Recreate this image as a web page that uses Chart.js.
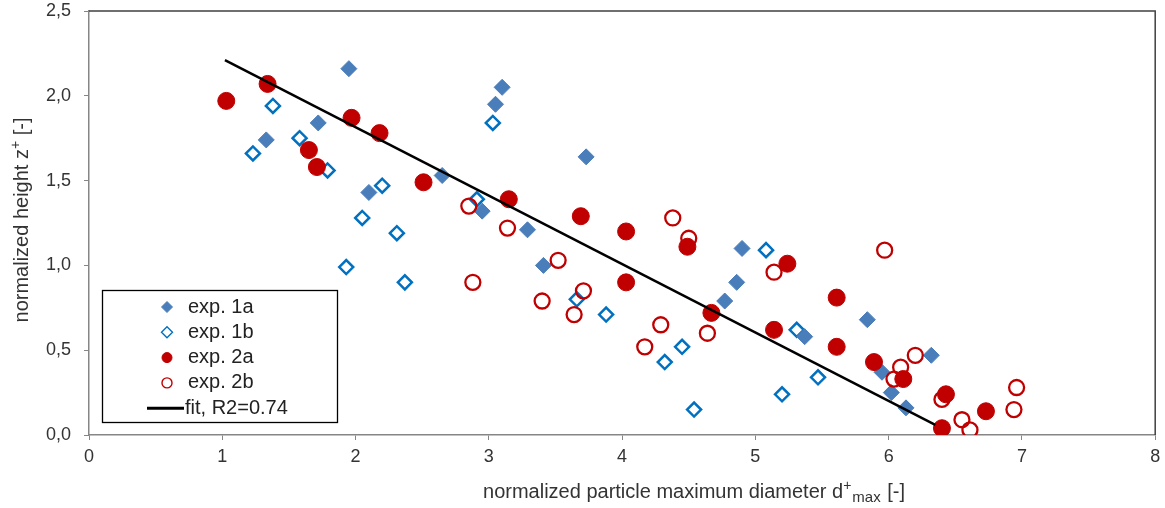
<!DOCTYPE html>
<html>
<head>
<meta charset="utf-8">
<script src="https://cdn.jsdelivr.net/npm/chart.js@4.4.1/dist/chart.umd.min.js"></script>
<style>
  html, body { margin: 0; padding: 0; background: #fff; }
  #wrap { width: 1165px; height: 508px; position: relative; }
</style>
</head>
<body>
<div id="wrap"><canvas id="myChart"></canvas></div>
<script>
// data
const exp1aX = [1.33, 1.72, 1.95, 2.10, 2.65, 2.95, 3.05, 3.10, 3.29, 3.41, 3.73, 4.77, 4.86, 4.90, 5.37, 5.84, 5.95, 6.02, 6.13, 6.32];
const exp1aY = [1.74, 1.84, 2.16, 1.43, 1.53, 1.32, 1.95, 2.05, 1.21, 1.00, 1.64, 0.79, 0.90, 1.10, 0.58, 0.68, 0.37, 0.25, 0.16, 0.47];

const exp1bX = [1.23, 1.38, 1.58, 1.79, 1.93, 2.05, 2.20, 2.31, 2.37, 2.91, 3.03, 3.66, 3.88, 4.32, 4.45, 4.54, 5.08, 5.20, 5.31, 5.47];
const exp1bY = [1.66, 1.94, 1.75, 1.56, 0.99, 1.28, 1.47, 1.19, 0.90, 1.39, 1.84, 0.80, 0.71, 0.43, 0.52, 0.15, 1.09, 0.24, 0.62, 0.34];

const exp2aX = [1.03, 1.34, 1.65, 1.71, 1.97, 2.18, 2.51, 3.15, 3.69, 4.03, 4.03, 4.49, 4.67, 5.14, 5.24, 5.61, 5.61, 5.89, 6.11, 6.43, 6.40, 6.73];
const exp2aY = [1.97, 2.07, 1.68, 1.58, 1.87, 1.78, 1.49, 1.39, 1.29, 1.20, 0.90, 1.11, 0.72, 0.62, 1.01, 0.81, 0.52, 0.43, 0.33, 0.24, 0.04, 0.14];

const exp2bX = [2.85, 2.88, 3.14, 3.40, 3.52, 3.64, 3.71, 4.17, 4.29, 4.38, 4.50, 4.64, 5.14, 5.97, 6.04, 6.09, 6.20, 6.40, 6.55, 6.61, 6.94, 6.96];
const exp2bY = [1.35, 0.90, 1.22, 0.79, 1.03, 0.71, 0.85, 0.52, 0.65, 1.28, 1.16, 0.60, 0.96, 1.09, 0.33, 0.40, 0.47, 0.21, 0.09, 0.03, 0.15, 0.28];

const fitX = [1.02, 6.35];
const fitY = [2.21, 0.06];

const xTicks = [0, 1, 2, 3, 4, 5, 6, 7, 8];
const yTicks = ['0,0', '0,5', '1,0', '1,5', '2,0', '2,5'];

function pts(xs, ys) {
  return xs.map((x, i) => ({ x: x, y: ys[i] }));
}

const FONT = "'Liberation Sans', Arial, sans-serif";
Chart.defaults.font.family = FONT;

// legend inside the plot, framed box
const boxLegend = {
  id: 'boxLegend',
  afterDraw(chart) {
    const ctx = chart.ctx;
    const left = 102, top = 290, right = 337, bottom = 422;
    ctx.save();
    ctx.fillStyle = '#fff';
    ctx.fillRect(left, top, right - left, bottom - top);
    ctx.strokeStyle = '#000';
    ctx.lineWidth = 1.3;
    ctx.strokeRect(left + 0.5, top + 0.5, right - left, bottom - top);

    ctx.font = '20px ' + FONT;
    ctx.textBaseline = 'middle';
    chart.data.datasets.forEach((ds, i) => {
      const y = 307 + i * 25.3;
      if (ds.showLine) {
        ctx.strokeStyle = ds.borderColor;
        ctx.lineWidth = 3;
        ctx.beginPath();
        ctx.moveTo(147, y);
        ctx.lineTo(184, y);
        ctx.stroke();
        ctx.fillStyle = '#222';
        ctx.fillText(ds.label, 185, y);
      } else {
        ctx.fillStyle = ds.backgroundColor;
        ctx.strokeStyle = ds.borderColor;
        ctx.lineWidth = ds.borderWidth > 1 ? 1.4 : ds.borderWidth;
        Chart.helpers.drawPoint(ctx, {
          pointStyle: ds.pointStyle,
          radius: ds.pointStyle === 'circle' ? 5 : 5.5,
          rotation: 0,
          borderWidth: ctx.lineWidth
        }, 167, y);
        ctx.fillStyle = '#222';
        ctx.fillText(ds.label, 188, y);
      }
    });
    ctx.restore();
  }
};

// dark frame on top and right of the plot area
const frame = {
  id: 'frame',
  beforeDatasetsDraw(chart) {
    const a = chart.chartArea;
    const ctx = chart.ctx;
    ctx.save();
    ctx.strokeStyle = '#404040';
    ctx.lineWidth = 1.5;
    ctx.beginPath();
    ctx.moveTo(a.left, a.top);
    ctx.lineTo(a.right, a.top);
    ctx.lineTo(a.right, a.bottom);
    ctx.stroke();
    ctx.restore();
  }
};

// axis titles with super/subscripts
function drawParts(ctx, parts, cx, baseY) {
  let total = 0;
  parts.forEach(p => {
    ctx.font = p.size + 'px ' + FONT;
    p.w = ctx.measureText(p.t).width;
    total += p.w + (p.gap || 0);
  });
  let x = cx - total / 2;
  parts.forEach(p => {
    ctx.font = p.size + 'px ' + FONT;
    ctx.fillText(p.t, x, baseY + (p.dy || 0));
    x += p.w + (p.gap || 0);
  });
}

const axisTitles = {
  id: 'axisTitles',
  afterDraw(chart) {
    const ctx = chart.ctx;
    ctx.save();
    ctx.fillStyle = '#333';
    ctx.textBaseline = 'alphabetic';
    drawParts(ctx, [
      { t: 'normalized particle maximum diameter d', size: 20 },
      { t: '+', size: 14, dy: -8, gap: 1 },
      { t: 'max', size: 15, dy: 4, gap: 1 },
      { t: ' [-]', size: 20 }
    ], 694, 498);

    ctx.translate(28, 220);
    ctx.rotate(-Math.PI / 2);
    drawParts(ctx, [
      { t: 'normalized height z', size: 20 },
      { t: '+', size: 14, dy: -8 },
      { t: ' [-]', size: 20 }
    ], 0, 0);
    ctx.restore();
  }
};

const ctx = document.getElementById('myChart').getContext('2d');
const chart = new Chart(ctx, {
  type: 'scatter',
  data: {
    datasets: [
      {
        label: 'exp. 1a',
        data: pts(exp1aX, exp1aY),
        pointStyle: 'rectRot',
        pointRadius: 8,
        backgroundColor: '#4a7ebb',
        borderColor: '#4a7ebb',
        borderWidth: 1,
        order: 3
      },
      {
        label: 'exp. 1b',
        data: pts(exp1bX, exp1bY),
        pointStyle: 'rectRot',
        pointRadius: 7,
        backgroundColor: 'rgba(255,255,255,0)',
        borderColor: '#0070c0',
        borderWidth: 2.5,
        order: 4
      },
      {
        label: 'exp. 2a',
        data: pts(exp2aX, exp2aY),
        pointStyle: 'circle',
        pointRadius: 8.5,
        backgroundColor: '#c00000',
        borderColor: '#c00000',
        borderWidth: 1,
        order: 1
      },
      {
        label: 'exp. 2b',
        data: pts(exp2bX, exp2bY),
        pointStyle: 'circle',
        pointRadius: 7.5,
        backgroundColor: 'rgba(255,255,255,0)',
        borderColor: '#c00000',
        borderWidth: 2.3,
        order: 2
      },
      {
        label: 'fit, R2=0.74',
        data: pts(fitX, fitY),
        showLine: true,
        pointRadius: 0,
        borderColor: '#000',
        borderWidth: 2.5,
        backgroundColor: '#000',
        order: 0
      }
    ]
  },
  options: {
    responsive: true,
    maintainAspectRatio: false,
    animation: false,
    events: [],
    layout: { padding: { top: 11, right: 8, left: 0, bottom: 0 } },
    plugins: {
      legend: { display: false },
      tooltip: { enabled: false }
    },
    scales: {
      x: {
        type: 'linear',
        min: 0,
        max: 8,
        afterFit: (s) => { s.height = 73; s.paddingLeft = 0; s.paddingRight = 0; },
        afterBuildTicks: (s) => { s.ticks = xTicks.map(v => ({ value: v })); },
        ticks: {
          padding: 6,
          color: '#333',
          font: { size: 18 },
          callback: (v) => String(v)
        },
        grid: { display: true, drawOnChartArea: false, drawTicks: true, tickLength: 5, color: '#868686' },
        border: { display: true, color: '#868686', width: 1.5 }
      },
      y: {
        type: 'linear',
        min: 0,
        max: 2.5,
        afterFit: (s) => { s.width = 89; s.paddingTop = 0; s.paddingBottom = 0; },
        afterBuildTicks: (s) => { s.ticks = yTicks.map((t, i) => ({ value: i * 0.5 })); },
        ticks: {
          padding: 13,
          color: '#333',
          font: { size: 18 },
          callback: (v, i) => yTicks[i]
        },
        grid: { display: true, drawOnChartArea: false, drawTicks: true, tickLength: 5, color: '#868686' },
        border: { display: true, color: '#868686', width: 1.5 }
      }
    }
  },
  plugins: [frame, boxLegend, axisTitles]
});
</script>
</body>
</html>
